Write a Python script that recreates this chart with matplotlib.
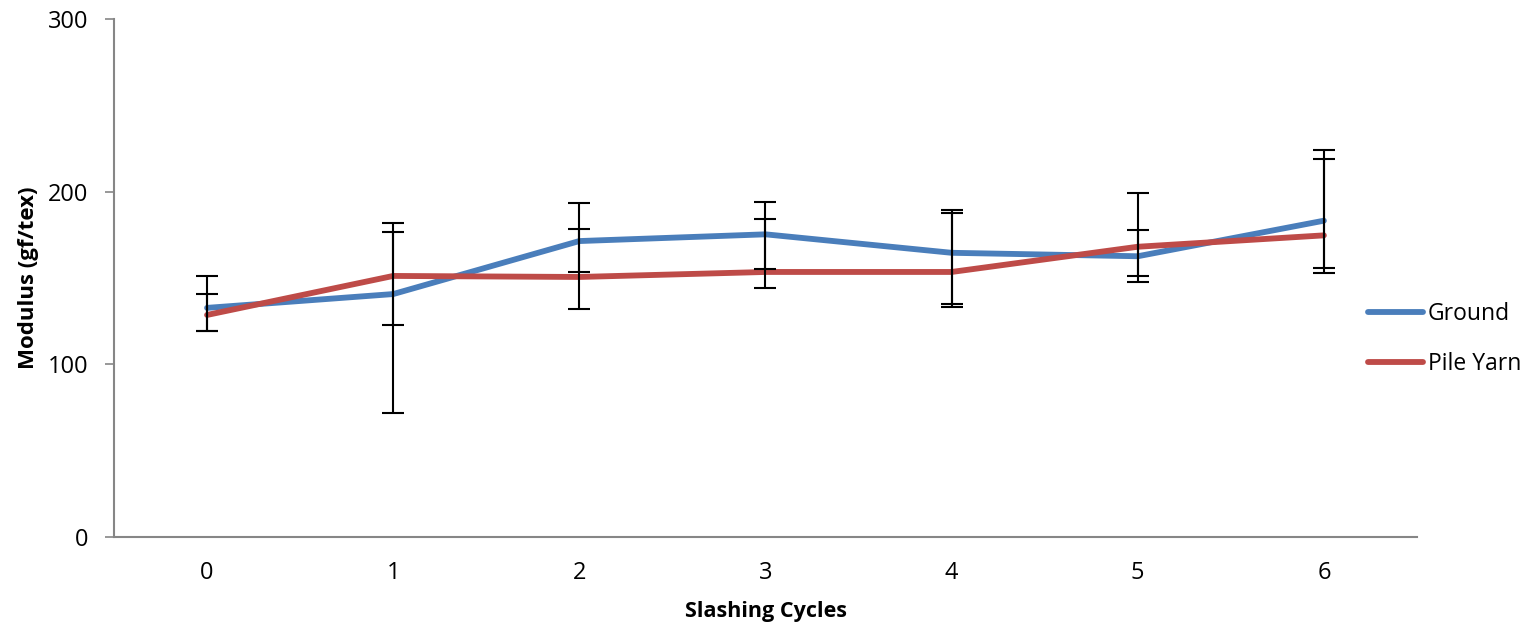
import matplotlib
matplotlib.use("Agg")
import matplotlib.pyplot as plt
import numpy as np

plt.rcParams['font.family'] = ['Open Sans', 'DejaVu Sans']

cycles = [0, 1, 2, 3, 4, 5, 6]
ground = [132.7, 140.7, 171.4, 175.3, 164.6, 162.6, 183.2]
ground_upper = [151.0, 176.4, 193.2, 193.8, 189.4, 199.4, 224.1]
ground_lower = [119.3, 72.0, 153.5, 155.4, 133.0, 147.9, 155.8]
pile = [128.6, 151.2, 150.6, 153.5, 153.5, 168.1, 174.7]
pile_upper = [140.5, 182.0, 178.4, 184.2, 187.4, 178.0, 219.1]
pile_lower = [119.3, 122.6, 132.0, 144.2, 135.1, 151.2, 152.7]

blue = '#4A7EBB'
red = '#BE4B48'

fig = plt.figure(figsize=(15.36, 6.26), dpi=100)
ax = fig.add_axes([0.0742, 0.1422, 0.8483, 0.8274])

x = np.array(cycles)
g = np.array(ground); p = np.array(pile)
g_err = [g - np.array(ground_lower), np.array(ground_upper) - g]
p_err = [p - np.array(pile_lower), np.array(pile_upper) - p]

lg, = ax.plot(x, g, color=blue, lw=4.2, solid_capstyle='round', zorder=2, label='Ground')
lp, = ax.plot(x, p, color=red, lw=4.2, solid_capstyle='round', zorder=2, label='Pile Yarn')
ax.errorbar(x, g, yerr=g_err, fmt='none', ecolor='black', elinewidth=1.5, capsize=8, capthick=1.5, zorder=3)
ax.errorbar(x, p, yerr=p_err, fmt='none', ecolor='black', elinewidth=1.5, capsize=8, capthick=1.5, zorder=3)

ax.set_xlim(-0.5, 6.5)
ax.set_ylim(0, 300)
ax.set_yticks([0, 100, 200, 300])
ax.set_xticks(cycles)
ax.tick_params(axis='x', length=0, pad=17, labelsize=17)
ax.tick_params(axis='y', length=6.5, width=1.2, color='#868686', pad=12, labelsize=17)
for s in ['top', 'right']:
    ax.spines[s].set_visible(False)
for s in ['left', 'bottom']:
    ax.spines[s].set_color('#868686')
    ax.spines[s].set_linewidth(1.5)

fig.text(766 / 1536, 1 - 612 / 626, 'Slashing Cycles', fontsize=15.5, fontweight='bold',
         ha='center', va='center')
fig.text(29 / 1536, 1 - 278 / 626, 'Modulus (gf/tex)', fontsize=16, fontweight='bold',
         ha='center', va='center', rotation=90)

fig.legend(handles=[lg, lp], loc='center left', bbox_to_anchor=(1368 / 1536, 1 - 339 / 626),
           frameon=False, fontsize=16.5, handlelength=2.4, handletextpad=0.2,
           labelspacing=1.15, borderpad=0, borderaxespad=0)

fig.savefig('out.png', dpi=100)
